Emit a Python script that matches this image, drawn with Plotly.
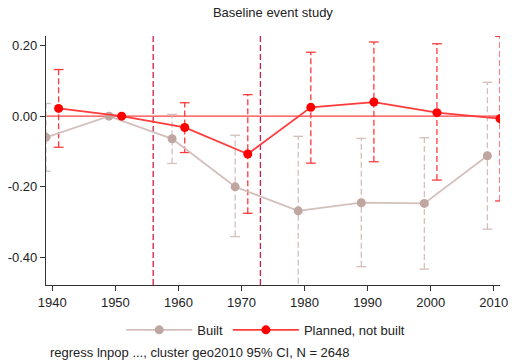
import plotly.graph_objects as go

built_years = [1939, 1949, 1959, 1969, 1979, 1989, 1999, 2009]
built_coef = [-0.060, 0.0, -0.064, -0.200, -0.268, -0.245, -0.247, -0.112]
built_hi = [0.036, None, 0.005, -0.054, -0.057, -0.063, -0.061, 0.096]
built_lo = [-0.156, None, -0.134, -0.341, -0.500, -0.426, -0.433, -0.320]

plan_years = [1941, 1951, 1961, 1971, 1981, 1991, 2001, 2011]
plan_coef = [0.022, 0.0, -0.032, -0.107, 0.025, 0.040, 0.010, -0.007]
plan_hi = [0.132, None, 0.038, 0.061, 0.181, 0.210, 0.205, 0.226]
plan_lo = [-0.088, None, -0.103, -0.275, -0.133, -0.129, -0.181, -0.240]

event_years = [1956, 1973]
x_ticks = [1940, 1950, 1960, 1970, 1980, 1990, 2000, 2010]
y_ticks = [-0.40, -0.20, 0.00, 0.20]
y_ticktext = ["%.2f" % v for v in y_ticks]

BUILT_M = "#bfa6a1"
BUILT_L = "#d3bfbb"
PLAN_M = "#ff0000"
PLAN_L = "#ff3b3b"
EVENT_C = "#cc1f4a"
FONT = "Liberation Sans, Arial, sans-serif"

fig = go.Figure()

def ci_traces(xs, lo, hi, color):
    lx, ly, cx, cy = [], [], [], []
    for x, l, h in zip(xs, lo, hi):
        if l is None:
            continue
        lx += [x, x, None]
        ly += [l, h, None]
        cx += [x, x]
        cy += [l, h]
    fig.add_trace(go.Scatter(x=lx, y=ly, mode="lines", showlegend=False,
                             line=dict(color=color, width=1.3, dash="6px,3px"),
                             hoverinfo="skip"))
    fig.add_trace(go.Scatter(x=cx, y=cy, mode="markers", showlegend=False,
                             marker=dict(symbol="line-ew", size=7,
                                         line=dict(color=color, width=1.3)),
                             hoverinfo="skip"))

ci_traces(built_years, built_lo, built_hi, BUILT_L)
ci_traces(plan_years, plan_lo, plan_hi, PLAN_L)

fig.add_trace(go.Scatter(x=built_years, y=built_coef, mode="lines+markers", name="Built",
                         line=dict(color=BUILT_L, width=1.8),
                         marker=dict(color=BUILT_M, size=9)))
fig.add_trace(go.Scatter(x=plan_years, y=plan_coef, mode="lines+markers", name="Planned, not built",
                         line=dict(color=PLAN_L, width=1.8),
                         marker=dict(color=PLAN_M, size=9)))

shapes = [dict(type="line", xref="paper", x0=0, x1=1, yref="y", y0=0, y1=0,
               line=dict(color="#ff4040", width=1.2), layer="below")]
for ey in event_years:
    shapes.append(dict(type="line", xref="x", x0=ey, x1=ey, yref="paper", y0=0, y1=1,
                       line=dict(color=EVENT_C, width=1.3, dash="6px,3px"), layer="below"))

fig.update_layout(
    width=512, height=361,
    margin=dict(l=46, r=12, t=36, b=76, autoexpand=False),
    paper_bgcolor="white", plot_bgcolor="white",
    font=dict(family=FONT, size=13, color="#222"),
    title=dict(text="Baseline event study", x=0.533, xanchor="center", y=0.965, yanchor="middle",
               font=dict(size=13, family=FONT, color="#222")),
    shapes=shapes,
    showlegend=True,
    legend=dict(orientation="h", x=0.484, xanchor="center", y=-0.12, yanchor="top",
                font=dict(size=13, family=FONT), itemwidth=66, tracegroupgap=0),
    annotations=[dict(text="regress lnpop ..., cluster geo2010 95% CI, N = 2648",
                      xref="paper", yref="paper", x=0, y=-0.273, xanchor="left", yanchor="middle",
                      xshift=2, showarrow=False, font=dict(size=13, family=FONT, color="#222"))],
)

fig.update_xaxes(range=[1939, 2011], tickvals=x_ticks, ticks="outside", ticklen=5,
                 tickcolor="#333", showline=True, linecolor="#333", linewidth=1.2,
                 showgrid=False, zeroline=False, tickfont=dict(size=13), automargin=False)
fig.update_yaxes(range=[-0.478, 0.227], tickvals=y_ticks, ticktext=y_ticktext, ticks="outside",
                 ticklen=5, tickcolor="#333", showline=True, linecolor="#333", linewidth=1.2,
                 showgrid=False, zeroline=False, tickfont=dict(size=13), automargin=False)

fig.write_html("out.html")
